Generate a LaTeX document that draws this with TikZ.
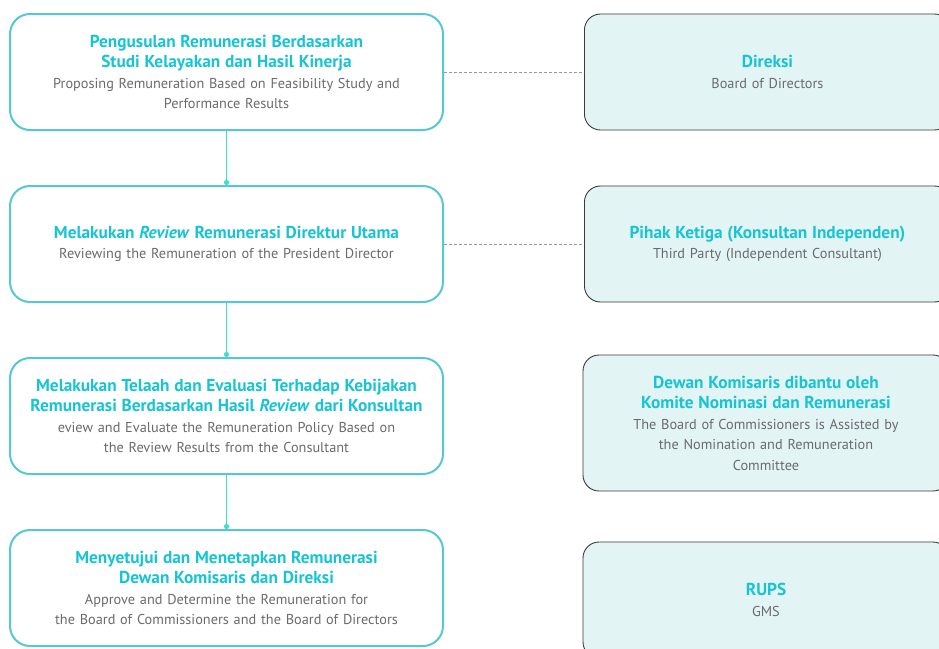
\documentclass[tikz,border=0pt]{standalone}
\usepackage{fontspec}
\setmainfont{PT Sans}
\usepackage{xcolor}
\usetikzlibrary{arrows.meta, positioning}

\definecolor{titlecyan}{HTML}{17C4D3}
\definecolor{bodygray}{HTML}{6A6B6E}
\definecolor{stepline}{HTML}{55C8D3}
\definecolor{linkline}{HTML}{3FDCD4}
\definecolor{partyfill}{HTML}{E3F4F4}
\definecolor{partyline}{HTML}{3A3A3A}

\newcommand{\ttl}[1]{{\fontsize{17.3}{20.5}\selectfont\bfseries\color{titlecyan}#1}}

\begin{document}
\begin{tikzpicture}[
    x=1pt, y=-1pt,
    node distance=54pt and 140pt,
    stepbox/.style={rectangle, rounded corners=20pt, draw=stepline, line width=2pt, fill=white, minimum width=433pt, minimum height=116pt, text width=428pt, align=center, font=\fontsize{14.3}{20.5}\selectfont, text=bodygray, inner sep=0pt},
    partybox/.style={rectangle, rounded corners=16pt, draw=partyline, line width=0.9pt, fill=partyfill, minimum width=366pt, text width=350pt, align=center, font=\fontsize{14.3}{20.5}\selectfont, text=bodygray, inner sep=0pt},
    flow/.style={-{Circle[length=5pt]}, line width=1pt, draw=linkline},
    dashlink/.style={dashed, dash pattern=on 3pt off 2pt, line width=0.8pt, draw=gray!80},
]
\clip (0,0) rectangle (939,648);
\useasboundingbox (0,0) rectangle (939,648);

% steps (left column)
\node[stepbox] (usul) at (226.5,72) {\ttl{Pengusulan Remunerasi Berdasarkan}\\\ttl{Studi Kelayakan dan Hasil Kinerja}\\Proposing Remuneration Based on Feasibility Study and\\Performance Results};
\node[stepbox, below=of usul] (review) {\ttl{Melakukan \textit{Review} Remunerasi Direktur Utama}\\Reviewing the Remuneration of the President Director};
\node[stepbox, below=of review] (telaah) {\ttl{Melakukan Telaah dan Evaluasi Terhadap Kebijakan}\\\ttl{Remunerasi Berdasarkan Hasil \textit{Review} dari Konsultan}\\eview and Evaluate the Remuneration Policy Based on\\the Review Results from the Consultant};
\node[stepbox, below=of telaah] (tetap) {\ttl{Menyetujui dan Menetapkan Remunerasi}\\\ttl{Dewan Komisaris dan Direksi}\\Approve and Determine the Remuneration for\\the Board of Commissioners and the Board of Directors};

% parties (right column)
\node[partybox, minimum height=116pt, right=of usul] (direksi) {\ttl{Direksi}\\Board of Directors};
\node[partybox, minimum height=116pt, right=of review] (konsultan) {\ttl{Pihak Ketiga (Konsultan Independen)}\\Third Party (Independent Consultant)};
\node[partybox, minimum height=136pt] (dekom) at (766,423) {\ttl{Dewan Komisaris dibantu oleh}\\\ttl{Komite Nominasi dan Remunerasi}\\The Board of Commissioners is Assisted by\\the Nomination and Remuneration\\Committee};
\node[partybox, minimum height=116pt] (rups) at (766,600) {\ttl{RUPS}\\GMS};

\draw[flow] (usul) -- (review);
\draw[flow] (review) -- (telaah);
\draw[flow] (telaah) -- (tetap);
\draw[dashlink] (usul) -- (direksi);
\draw[dashlink] (review) -- (konsultan);
\end{tikzpicture}
\end{document}
